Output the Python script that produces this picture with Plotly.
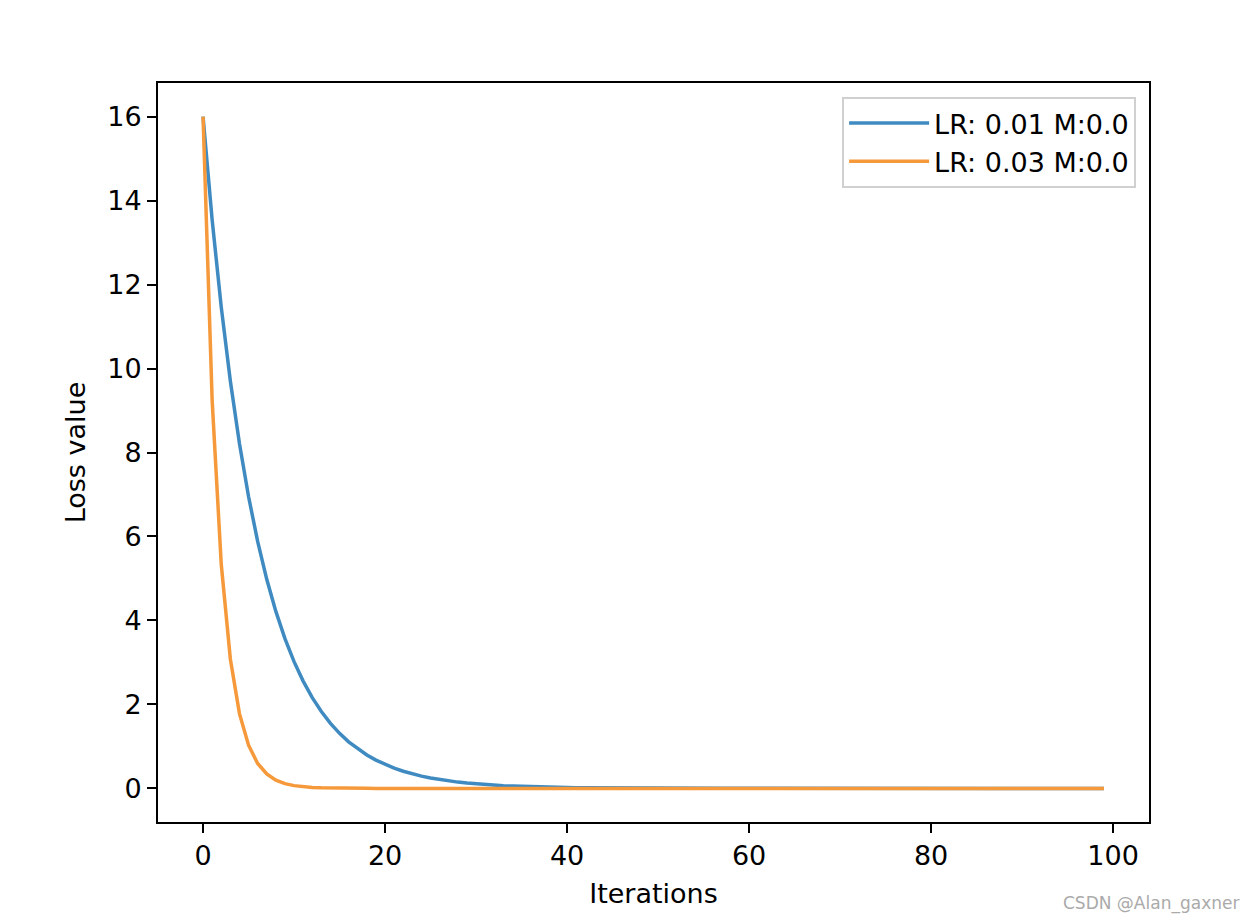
import plotly.graph_objects as go

iterations = list(range(100))

loss_lr001 = [16.0, 13.542, 11.462, 9.702, 8.212, 6.951, 5.883, 4.980, 4.215, 3.567,
              3.019, 2.556, 2.163, 1.831, 1.550, 1.312, 1.110, 0.940, 0.795, 0.673,
              0.570, 0.482, 0.408, 0.345, 0.292, 0.247, 0.209, 0.177, 0.150, 0.127,
              0.107, 0.091, 0.077, 0.065, 0.055, 0.047, 0.040, 0.033, 0.028, 0.024,
              0.020, 0.017, 0.014, 0.012, 0.010, 0.009, 0.007, 0.006, 0.005, 0.004,
              0.004, 0.003, 0.003, 0.002, 0.002, 0.002, 0.001, 0.001, 0.001, 0.001,
              0.001, 0.001, 0.0, 0.0, 0.0, 0.0, 0.0, 0.0, 0.0, 0.0,
              0.0, 0.0, 0.0, 0.0, 0.0, 0.0, 0.0, 0.0, 0.0, 0.0,
              0.0, 0.0, 0.0, 0.0, 0.0, 0.0, 0.0, 0.0, 0.0, 0.0,
              0.0, 0.0, 0.0, 0.0, 0.0, 0.0, 0.0, 0.0, 0.0, 0.0]

loss_lr003 = [16.0, 9.242, 5.338, 3.083, 1.781, 1.029, 0.594, 0.343, 0.198, 0.114,
              0.066, 0.038, 0.022, 0.013, 0.007, 0.004, 0.002, 0.001, 0.001, 0.0] + [0.0] * 80

series_names = ["LR: 0.01 M:0.0", "LR: 0.03 M:0.0"]
x_ticks = [0, 20, 40, 60, 80, 100]
y_ticks = [0, 2, 4, 6, 8, 10, 12, 14, 16]

font_family = "DejaVu Sans"
fs = 27

fig = go.Figure()
fig.add_trace(go.Scatter(x=iterations, y=loss_lr001, mode="lines", name=series_names[0],
                         legendgroup="a", line=dict(color="#3f8bc1", width=3.5)))
fig.add_trace(go.Scatter(x=iterations, y=loss_lr003, mode="lines", name=series_names[1],
                         legendgroup="b", line=dict(color="#f5993a", width=3.5)))

axis_common = dict(showgrid=False, zeroline=False, showline=True, linecolor="black",
                   linewidth=2, mirror=True, ticks="outside", ticklen=9, tickwidth=2,
                   tickcolor="black", tickfont=dict(family=font_family, size=fs, color="black"))

fig.update_layout(
    width=1260, height=920,
    margin=dict(l=158, r=111, t=83, b=98),
    paper_bgcolor="white", plot_bgcolor="white",
    font=dict(family=font_family, size=fs, color="black"),
    xaxis=dict(range=[-4.95, 103.95], tickvals=x_ticks,
               title=dict(text="Iterations", font=dict(size=fs), standoff=14), **axis_common),
    yaxis=dict(range=[-0.8, 16.8], tickvals=y_ticks,
               title=dict(text="Loss value", font=dict(size=fs), standoff=14), **axis_common),
    legend=dict(x=0.987, y=0.981, xanchor="right", yanchor="top",
                bgcolor="rgba(255,255,255,0.8)", bordercolor="#d0d0d0", borderwidth=2,
                font=dict(family=font_family, size=fs), itemwidth=80,
                traceorder="grouped", tracegroupgap=0),
    showlegend=True,
)

fig.add_annotation(text="CSDN @Alan_gaxner", xref="paper", yref="paper", x=1.093, y=-0.093,
                   xanchor="right", yanchor="top", showarrow=False,
                   font=dict(family=font_family, size=17, color="#aaaaaa"))

fig.write_html("out.html")
